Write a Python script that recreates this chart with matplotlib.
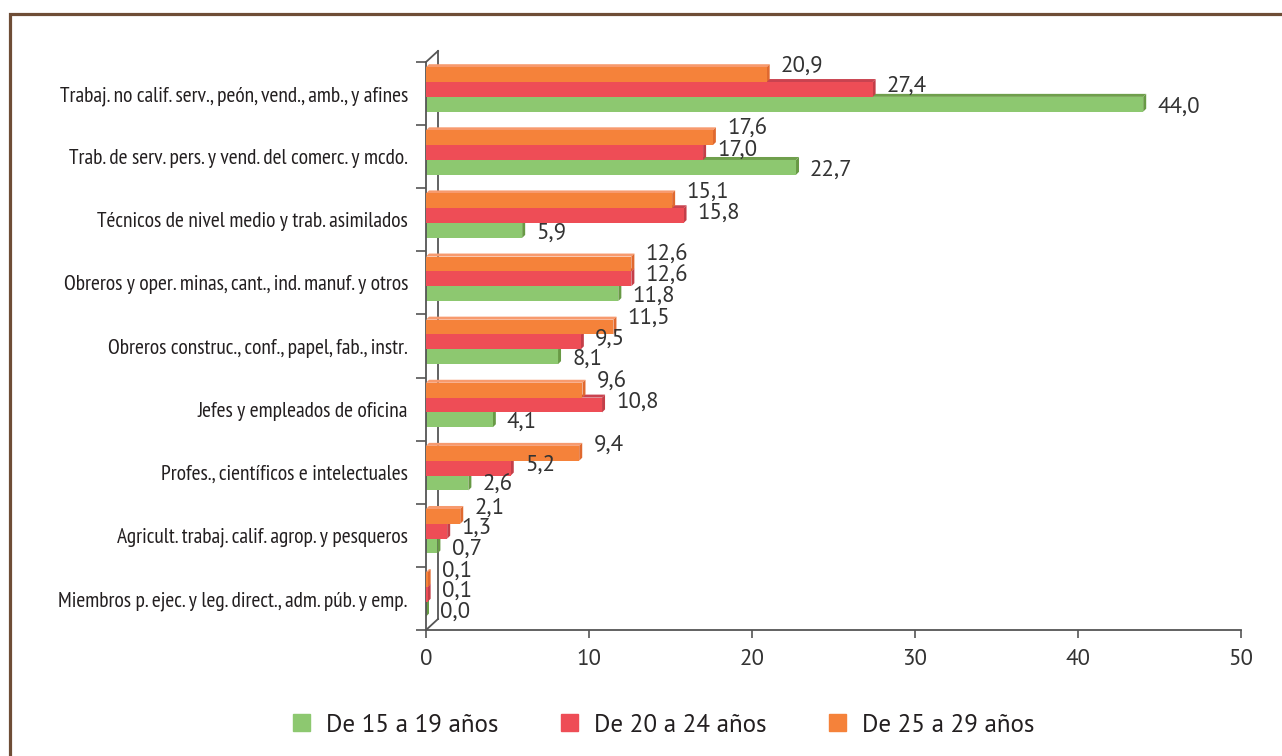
import numpy as np
import matplotlib.pyplot as plt
from matplotlib.patches import Polygon, Rectangle, Patch

# datos
categorias = [
    'Trabaj. no calif. serv., peón, vend., amb., y afines',
    'Trab. de serv. pers. y vend. del comerc. y mcdo.',
    'Técnicos de nivel medio y trab. asimilados',
    'Obreros y oper. minas, cant., ind. manuf. y otros',
    'Obreros construc., conf., papel, fab., instr.',
    'Jefes y empleados de oficina',
    'Profes., científicos e intelectuales',
    'Agricult. trabaj. calif. agrop. y pesqueros',
    'Miembros p. ejec. y leg. direct., adm. púb. y emp.',
]
edades = ['De 15 a 19 años', 'De 20 a 24 años', 'De 25 a 29 años']
v_15_19 = [44.0, 22.7, 5.9, 11.8, 8.1, 4.1, 2.6, 0.7, 0.0]
v_20_24 = [27.4, 17.0, 15.8, 12.6, 9.5, 10.8, 5.2, 1.3, 0.1]
v_25_29 = [20.9, 17.6, 15.1, 12.6, 11.5, 9.6, 9.4, 2.1, 0.1]
ticks_x = [0, 10, 20, 30, 40, 50]

colores = ['#8dc870', '#ee4d56', '#f5823a']
lados = ['#689a45', '#c43e48', '#e0692f']
techos = ['#6f9f4c', '#c94350', '#f79a6e']

cond = ['PT Sans Narrow', 'Liberation Sans Narrow', 'DejaVu Sans']
reg = ['PT Sans', 'Open Sans', 'DejaVu Sans']

fig = plt.figure(figsize=(12.82, 7.56), dpi=100)
ax = fig.add_axes([426 / 1282, 126 / 756, 815 / 1282, 568 / 756])

# marco marrón
fig.patches.append(Rectangle((10 / 1282, -0.1), 1.2, 1.1 - 14 / 756, transform=fig.transFigure,
                             fill=False, ec='#6e4d36', lw=2.3))

n = len(categorias)
h = 0.235
desp = -0.065
dx = 3 / 16.3   # profundidad en unidades de datos
dy = 3 / 63.1
y = np.arange(n)
series = [v_15_19, v_20_24, v_25_29]
off_txt = [-2, 2, 6]

for k, vals in enumerate(series):
    yc = y + desp + (1 - k) * h
    for yi, v in zip(yc, vals):
        top = yi - h / 2
        bot = yi + h / 2
        ax.add_patch(Polygon([(0, top), (v, top), (v + dx, top - dy), (dx, top - dy)],
                             closed=True, fc=techos[k], ec='none', zorder=2 + k))
        ax.add_patch(Polygon([(v, top), (v, bot), (v + dx, bot - dy), (v + dx, top - dy)],
                             closed=True, fc=lados[k], ec='none', zorder=2 + k))
        ax.annotate(f'{v:.1f}'.replace('.', ','), (v + dx, yi), xytext=(8, off_txt[k]),
                    textcoords='offset points', va='center', ha='left',
                    fontsize=16.5, color='#333333', family=reg, zorder=10)
    ax.barh(yc, vals, height=h, color=colores[k], zorder=2 + k)

ax.set_xlim(0, 50)
ax.set_ylim(n - 0.5, -0.5)
ax.set_xticks(ticks_x)
ax.set_xticklabels([str(t) for t in ticks_x], fontsize=16.5, color='#333333', family=reg)
ax.tick_params(axis='x', length=6, width=1.2, color='#555555', pad=8)

ax.set_yticks(y)
ax.set_yticklabels(categorias, fontsize=15.5, color='#231f20', family=cond)
ax.tick_params(axis='y', which='major', length=0, pad=13)
ax.set_yticks(np.arange(-0.5, n), minor=True)
ax.tick_params(axis='y', which='minor', length=7, width=1.2, color='#555555')

for s in ['top', 'right']:
    ax.spines[s].set_visible(False)
for s in ['left', 'bottom']:
    ax.spines[s].set_color('#555555')
    ax.spines[s].set_linewidth(1.3)

# pared del fondo
px = 12 / 16.3
py = 11 / 63.1
ax.plot([px, px], [n - 0.5 - py, -0.5 - py], color='#555555', lw=1.3, clip_on=False, zorder=1)
ax.plot([0, px], [n - 0.5, n - 0.5 - py], color='#555555', lw=1.3, clip_on=False, zorder=1)
ax.plot([0, px], [-0.5, -0.5 - py], color='#555555', lw=1.3, clip_on=False, zorder=1)

handles = [Patch(color=c, label=e) for c, e in zip(colores, edades)]
fig.legend(handles=handles, loc='center', bbox_to_anchor=(0.518, 31 / 756), ncol=3,
           frameon=False, handlelength=0.68, handleheight=0.68, handletextpad=0.64,
           columnspacing=2.5, prop={'family': reg, 'size': 18}, labelcolor='#231f20')

fig.savefig('out.png', dpi=100)
